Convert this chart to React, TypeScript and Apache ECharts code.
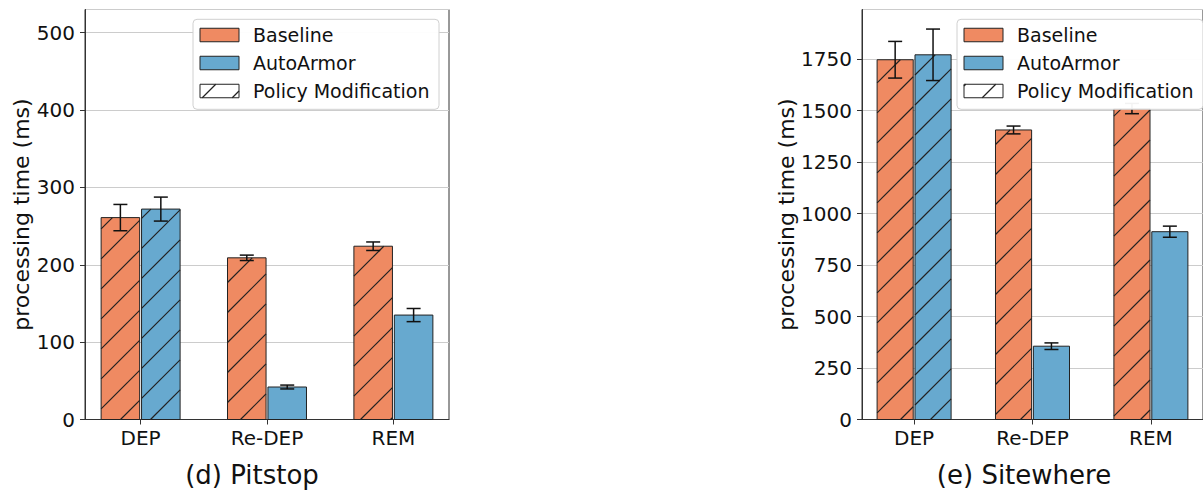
import React, { useEffect, useRef } from 'react';
import * as echarts from 'echarts';

// ---- data -------------------------------------------------------------
const categories = ['DEP', 'Re-DEP', 'REM'];

const pitstopBaseline = [261, 209, 224];
const pitstopBaselineErr = [17, 3.5, 5.5];
const pitstopAutoArmor = [272, 42, 135];
const pitstopAutoArmorErr = [15.5, 2.5, 8.5];

const sitewhereBaseline = [1747, 1406, 1510];
const sitewhereBaselineErr = [89, 19, 25];
const sitewhereAutoArmor = [1771, 356, 912];
const sitewhereAutoArmorErr = [125, 16, 27];

// bars that carry the "Policy Modification" hatch
const baselineHatched = [1, 1, 1];
const autoArmorHatched = [1, 0, 0];

const legendLabels = ['Baseline', 'AutoArmor', 'Policy Modification'];
const panelTitles = ['(d) Pitstop', '(e) Sitewhere'];
const yAxisTitle = 'processing time (ms)';

// ---- styling ----------------------------------------------------------
const BASE_COLOR = '#ef8a62';
const AUTO_COLOR = '#67a9cf';
const EDGE = '#222';
const FONT = 'DejaVu Sans';
const BAR_WIDTH = 0.305;
const BAR_OFFSET = 0.16;
const HATCH_STEP = 30;
const HATCH_PHASE = 0;

const PANELS = [
  { left: 85, width: 364, yMax: 530, interval: 100, titleX: 252, nameGap: 51 },
  { left: 862, width: 351, yMax: 1991, interval: 250, titleX: 1024, nameGap: 62 },
];
const GRID_TOP = 9.5;
const GRID_HEIGHT = 410;

// '/' hatch strokes clipped to a rectangle (screen coordinates)
function hatchLines(x0: number, y0: number, x1: number, y1: number, z?: number) {
  const out: any[] = [];
  const start = Math.ceil((x0 + y0 - HATCH_PHASE) / HATCH_STEP) * HATCH_STEP + HATCH_PHASE;
  for (let c = start; c <= x1 + y1; c += HATCH_STEP) {
    const xa = Math.max(x0, c - y1);
    const xb = Math.min(x1, c - y0);
    if (xb - xa > 0.5) {
      const el: any = {
        type: 'line',
        shape: { x1: xa, y1: c - xa, x2: xb, y2: c - xb },
        style: { stroke: EDGE, lineWidth: 1.2 },
        silent: true,
      };
      if (z !== undefined) el.z = z;
      out.push(el);
    }
  }
  return out;
}

const makeRenderItem = (color: string) => (_params: any, api: any) => {
  const xv = api.value(0);
  const v = api.value(1);
  const e = api.value(2);
  const hatched = api.value(3);
  const top = api.coord([xv, v]);
  const base = api.coord([xv, 0]);
  const w = api.size([BAR_WIDTH, 0])[0];
  const x0 = top[0] - w / 2;
  const x1 = top[0] + w / 2;
  const y0 = top[1];
  const y1 = base[1];
  const children: any[] = [
    { type: 'rect', shape: { x: x0, y: y0, width: w, height: y1 - y0 }, style: { fill: color } },
  ];
  if (hatched) children.push(...hatchLines(x0, y0, x1, y1));
  children.push({
    type: 'rect',
    shape: { x: x0, y: y0, width: w, height: y1 - y0 },
    style: { fill: 'none', stroke: EDGE, lineWidth: 1 },
  });
  const hi = api.coord([xv, v + e])[1];
  const lo = api.coord([xv, v - e])[1];
  const cx = top[0];
  const cap = 7;
  const errStyle = { stroke: '#111', lineWidth: 1.5 };
  children.push(
    { type: 'line', shape: { x1: cx, y1: hi, x2: cx, y2: lo }, style: errStyle },
    { type: 'line', shape: { x1: cx - cap, y1: hi, x2: cx + cap, y2: hi }, style: errStyle },
    { type: 'line', shape: { x1: cx - cap, y1: lo, x2: cx + cap, y2: lo }, style: errStyle },
  );
  return { type: 'group', children };
};

function seriesData(values: number[], errs: number[], hatched: number[], offset: number) {
  return categories.map((_, i) => [i + offset, values[i], errs[i], hatched[i]]);
}

function legendGraphics(plotRight: number) {
  const boxW = 246;
  const boxL = plotRight - 10 - boxW;
  const boxT = 19.3;
  const rows = [35, 63, 91];
  const fills = [BASE_COLOR, AUTO_COLOR, '#fff'];
  const els: any[] = [
    {
      type: 'rect',
      z: 100,
      shape: { x: boxL, y: boxT, width: boxW, height: 90, r: 4 },
      style: { fill: 'rgba(255,255,255,0.95)', stroke: '#d0d0d0', lineWidth: 1 },
    },
  ];
  rows.forEach((cy, i) => {
    const px = boxL + 7;
    const py = cy - 6.75;
    els.push({
      type: 'rect',
      z: 101,
      shape: { x: px, y: py, width: 39, height: 13.5 },
      style: { fill: fills[i] },
    });
    if (i === 2) els.push(...hatchLines(px, py, px + 39, py + 13.5, 102));
    els.push({
      type: 'rect',
      z: 103,
      shape: { x: px, y: py, width: 39, height: 13.5 },
      style: { fill: 'none', stroke: EDGE, lineWidth: 1 },
    });
    els.push({
      type: 'text',
      z: 103,
      x: boxL + 60,
      y: cy,
      style: {
        text: legendLabels[i],
        font: `19px "${FONT}"`,
        fill: '#111',
        textAlign: 'left',
        textVerticalAlign: 'middle',
      },
    });
  });
  return els;
}

export default function App() {
  const ref = useRef<HTMLDivElement>(null);

  useEffect(() => {
    if (!ref.current) return;
    const chart = echarts.init(ref.current, undefined, { renderer: 'svg' });

    const grids = PANELS.map((p) => ({
      left: p.left,
      top: GRID_TOP,
      width: p.width,
      height: GRID_HEIGHT,
      show: true,
      borderColor: '#333',
      borderWidth: 1,
      backgroundColor: 'transparent',
    }));

    const xAxes = PANELS.map((_, k) => ({
      type: 'value',
      gridIndex: k,
      min: -0.44,
      max: 2.44,
      splitLine: { show: false },
      axisLine: { show: true, onZero: false, lineStyle: { color: '#333', width: 1 } },
      axisTick: { show: true, length: 5, customValues: [0, 1, 2], lineStyle: { color: '#333' } },
      axisLabel: {
        customValues: [0, 1, 2],
        formatter: (v: number) => categories[Math.round(v)] ?? '',
        fontFamily: FONT,
        fontSize: 20,
        color: '#111',
        margin: 8,
      },
    }));

    const yAxes = PANELS.map((p, k) => ({
      type: 'value',
      gridIndex: k,
      min: 0,
      max: p.yMax,
      interval: p.interval,
      name: yAxisTitle,
      nameLocation: 'middle',
      nameRotate: 90,
      nameGap: p.nameGap,
      nameTextStyle: { fontFamily: FONT, fontSize: 22, color: '#111' },
      axisLine: { show: true, onZero: false, lineStyle: { color: '#333', width: 1 } },
      axisTick: { show: true, length: 5, lineStyle: { color: '#333' } },
      axisLabel: {
        showMaxLabel: false,
        formatter: (v: number) => String(v),
        fontFamily: FONT,
        fontSize: 20,
        color: '#111',
        margin: 10,
      },
      splitLine: { show: true, lineStyle: { color: '#cccccc', width: 1 } },
    }));

    const series = [
      {
        type: 'custom',
        name: 'Baseline',
        xAxisIndex: 0,
        yAxisIndex: 0,
        renderItem: makeRenderItem(BASE_COLOR),
        encode: { x: 0, y: 1 },
        data: seriesData(pitstopBaseline, pitstopBaselineErr, baselineHatched, -BAR_OFFSET),
      },
      {
        type: 'custom',
        name: 'AutoArmor',
        xAxisIndex: 0,
        yAxisIndex: 0,
        renderItem: makeRenderItem(AUTO_COLOR),
        encode: { x: 0, y: 1 },
        data: seriesData(pitstopAutoArmor, pitstopAutoArmorErr, autoArmorHatched, BAR_OFFSET),
      },
      {
        type: 'custom',
        name: 'Baseline',
        xAxisIndex: 1,
        yAxisIndex: 1,
        renderItem: makeRenderItem(BASE_COLOR),
        encode: { x: 0, y: 1 },
        data: seriesData(sitewhereBaseline, sitewhereBaselineErr, baselineHatched, -BAR_OFFSET),
      },
      {
        type: 'custom',
        name: 'AutoArmor',
        xAxisIndex: 1,
        yAxisIndex: 1,
        renderItem: makeRenderItem(AUTO_COLOR),
        encode: { x: 0, y: 1 },
        data: seriesData(sitewhereAutoArmor, sitewhereAutoArmorErr, autoArmorHatched, BAR_OFFSET),
      },
    ];

    const graphic: any[] = [];
    PANELS.forEach((p, k) => {
      graphic.push(...legendGraphics(p.left + p.width));
      graphic.push({
        type: 'text',
        z: 100,
        x: p.titleX,
        y: 475,
        style: {
          text: panelTitles[k],
          font: `26px "${FONT}"`,
          fill: '#111',
          textAlign: 'center',
          textVerticalAlign: 'middle',
        },
      });
    });

    chart.setOption({
      animation: false,
      backgroundColor: '#fff',
      textStyle: { fontFamily: FONT },
      grid: grids,
      xAxis: xAxes,
      yAxis: yAxes,
      series,
      graphic,
    } as any);

    return () => chart.dispose();
  }, []);

  return (
    <div
      ref={ref}
      style={{ position: 'fixed', left: 0, top: 0, width: 1203, height: 492, background: '#fff' }}
    />
  );
}
